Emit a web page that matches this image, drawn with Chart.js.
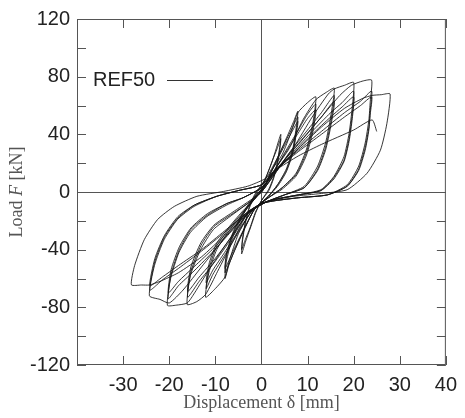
<!DOCTYPE html>
<html>
<head>
  <meta charset="UTF-8">
  <title>REF50 hysteresis</title>
  <script src="https://cdn.jsdelivr.net/npm/chart.js"></script>
  <style>
    body { margin: 0; background: #fff; }
  </style>
</head>
<body>
  <canvas id="loopChart" width="465" height="418"></canvas>

  <script>
    // load-displacement history, one array per amplitude step
    const step04 = [
      [0, 0], [1, 10], [2.2, 20], [3.2, 30], [4.2, 40],
      [4.0, 32], [3.4, 20], [2.6, 10], [1.6, 2], [0, -6],
      [-1.2, -14], [-2.4, -25], [-3.4, -34], [-4.3, -43],
      [-4.1, -34], [-3.5, -22], [-2.6, -11], [-1.5, -3], [0, 4], [1.2, 12],
      [2.4, 22], [3.4, 30], [4.2, 37],
      [4.0, 30], [3.4, 18], [2.6, 9], [1.6, 1], [0, -6],
      [-1.3, -14], [-2.5, -25], [-3.5, -33], [-4.3, -40],
      [-4.1, -32], [-3.5, -21], [-2.6, -10], [-1.5, -2], [0, 5], [1.5, 12]
    ];
    const step08 = [
      [3.5, 24], [5.5, 38], [7, 49], [7.9, 56],
      [7.6, 46], [6.8, 30], [5.4, 16], [3.5, 5], [1.5, -3], [-1.5, -12],
      [-3.5, -24], [-5.5, -38], [-7, -50], [-7.9, -60],
      [-7.6, -48], [-6.3, -32], [-4.5, -19], [-2.5, -8], [-0.5, 0], [1, 6], [2, 13],
      [4, 27], [6, 40], [7.9, 52],
      [7.6, 43], [6.8, 28], [5.4, 15], [3.5, 5], [1.5, -3], [-1.5, -12],
      [-4, -28], [-6, -42], [-7.9, -56],
      [-7.6, -45], [-6.3, -30], [-4.5, -18], [-2.5, -8], [-0.5, 0], [1, 6], [2, 13],
      [4, 26], [6, 38], [7.9, 49],
      [7.6, 41], [6.8, 27], [5.4, 14], [3.5, 4], [1.5, -3], [-1.5, -12],
      [-4, -27], [-6, -40], [-7.9, -53],
      [-7.6, -43], [-6.3, -29], [-4.5, -17], [-2.5, -7], [-0.5, 0], [1, 6], [2, 14]
    ];
    const step12 = [
      [4.5, 26], [6.5, 42], [7.9, 55], [10, 62], [11.8, 66],
      [11.1, 47], [9.7, 29], [7.5, 13], [4.5, 3], [1.5, -4], [-1, -10], [-2.5, -15],
      [-5, -29], [-7, -48], [-7.9, -59], [-10, -67], [-12.1, -73],
      [-11.4, -56], [-9.7, -40], [-6.8, -26], [-4, -15], [-1.5, -5], [0.5, 3], [2.5, 13],
      [5, 27], [8, 43], [10, 54], [11.8, 61],
      [11.1, 44], [9.7, 27], [7.5, 12], [4.5, 3], [1.5, -4], [-1, -10], [-2.5, -15],
      [-5, -28], [-8, -44], [-10.5, -57], [-12, -67],
      [-11.3, -52], [-9.6, -37], [-6.7, -24], [-4, -14], [-1.5, -5], [0.5, 3], [2.5, 13],
      [5, 26], [8, 41], [10, 51], [11.8, 57],
      [11.1, 41], [9.7, 25], [7.5, 11], [4.5, 2], [1.5, -4], [-1, -10], [-2.5, -15],
      [-5, -27], [-8, -42], [-10.5, -54], [-12, -63],
      [-11.3, -49], [-9.6, -35], [-6.7, -23], [-4, -13], [-1.5, -5], [0.5, 3], [2.5, 14]
    ];
    const step16 = [
      [6, 30], [9, 50], [11.8, 64], [14, 69], [15.8, 72],
      [15, 52], [13.9, 34], [12.2, 18], [9.3, 4], [5, -2], [1, -7], [-3, -15],
      [-6, -33], [-9.5, -55], [-12.1, -71], [-14, -76], [-16.1, -78],
      [-15.4, -58], [-13.2, -40], [-10.4, -26], [-6.8, -17], [-3, -8], [0, 0], [3, 13],
      [6, 27], [10, 43], [13, 55], [15.8, 67],
      [15, 48], [13.9, 31], [12.2, 16], [9.3, 3], [5, -2], [1, -7], [-3, -15],
      [-6, -30], [-10, -48], [-13.5, -62], [-16, -73],
      [-15.3, -55], [-13.1, -37], [-10.3, -24], [-6.7, -16], [-3, -8], [0, 0], [3, 13],
      [6, 26], [10, 41], [13, 52], [15.8, 63],
      [15, 45], [13.9, 29], [12.2, 15], [9.3, 3], [5, -2], [1, -7], [-3, -15],
      [-6, -29], [-10, -46], [-13.5, -59], [-16, -69],
      [-15.3, -52], [-13.1, -35], [-10.3, -23], [-6.7, -15], [-3, -7], [0, 0], [3, 14]
    ];
    const step20 = [
      [7, 31], [11, 52], [14.5, 68], [15.8, 71.5], [18, 74], [20, 76],
      [19.7, 59], [19, 40.5], [17.9, 24.5], [15.7, 10.7], [12.9, 1.6], [8, -2], [3, -5], [0, -8], [-3, -15],
      [-7, -33], [-11, -52], [-14.5, -70], [-16.1, -77], [-18.5, -78.5], [-20.4, -78.6],
      [-19.7, -60], [-17.9, -42], [-15.4, -28], [-11.8, -17], [-7.5, -9], [-4, -4], [0, 3], [3, 14],
      [7, 28], [11, 42], [15, 55], [17.5, 62], [20, 70],
      [19.7, 54], [19, 37], [17.9, 22], [15.7, 10], [12.9, 1], [8, -2], [3, -5], [0, -8], [-3, -15],
      [-7, -29], [-11, -43], [-15, -56], [-18, -65], [-20.2, -74],
      [-19.6, -57], [-17.8, -40], [-15.3, -26], [-11.7, -16], [-7.5, -8], [-4, -4], [0, 3], [3, 14],
      [7, 27], [11, 40], [15, 52], [17.5, 59], [20, 66],
      [19.7, 51], [19, 35], [17.9, 21], [15.7, 9], [12.9, 1], [8, -2], [3, -5], [0, -8], [-3, -15],
      [-7, -28], [-11, -41], [-15, -53], [-18, -62], [-20.2, -70],
      [-19.6, -54], [-17.8, -38], [-15.3, -25], [-11.7, -15], [-7.5, -8], [-4, -4], [0, 3], [3, 15]
    ];
    const step24 = [
      [8, 33], [13, 52], [17, 67], [19.5, 74], [22, 77], [23.9, 77.6],
      [23.6, 63], [23.3, 50], [22.5, 34], [21.1, 18], [18.6, 5], [14.3, -2], [8, -4], [3, -6], [0, -8], [-3, -14],
      [-8, -32], [-13, -52], [-17, -68], [-20, -77], [-22, -74.5], [-24.3, -72],
      [-23.2, -51], [-21.1, -33], [-18.2, -19], [-14.6, -10], [-9.7, -3], [-5, 1], [0, 5], [3, 15],
      [8, 29], [13, 42], [18, 55], [21.5, 63], [23.9, 70],
      [23.6, 57], [23.3, 45], [22.5, 31], [21.1, 16], [18.6, 4], [14.3, -2], [8, -4], [3, -6], [0, -8], [-3, -14],
      [-8, -28], [-13, -41], [-18, -53], [-21.5, -61], [-24.2, -68],
      [-23.1, -48], [-21, -31], [-18.1, -18], [-14.5, -9], [-9.7, -3], [-5, 1], [0, 5], [3, 15],
      [8, 28], [13, 40], [18, 52], [21.5, 60], [23.9, 66],
      [23.6, 54], [23.3, 43], [22.5, 29], [21.1, 15], [18.6, 4], [14.3, -2], [8, -4], [3, -6], [0, -8], [-3, -14],
      [-8, -27], [-13, -40], [-18, -51], [-21.5, -59], [-24.2, -65],
      [-23.1, -46], [-21, -30], [-18.1, -17], [-14.5, -9], [-9.7, -3], [-5, 1], [0, 5], [3, 15]
    ];
    const step28 = [
      [8, 30], [13, 45], [18, 58], [22, 65], [24, 67], [26, 67.5], [27.9, 68],
      [27.2, 47.4], [25.8, 29], [22.9, 13], [18.6, 1.6], [13, -1], [7, -3], [1, -7], [-3, -14],
      [-8, -30], [-13, -45], [-18, -56], [-22, -62], [-24.3, -64.5], [-26, -64.5], [-28.2, -64.4],
      [-27.5, -51], [-25.4, -33], [-22.5, -19], [-18.9, -10], [-14, -3], [-8.2, 0.4], [-3, 4], [0.7, 9], [3, 15]
    ];
    const finalRun = [
      [8, 25], [13, 33], [20, 43], [24, 50], [25, 42]
    ];

    const xTicks = { min: -40, max: 40, step: 10 };
    const yTicks = { min: -120, max: 120, step: 20 };

    const history = [...step04, ...step08, ...step12, ...step16, ...step20, ...step24, ...step28, ...finalRun]
      .map(p => ({ x: p[0], y: p[1] }));

    const serif = '"Liberation Serif", "Times New Roman", serif';

    // frame with inward ticks on all four sides, the legend and the y title (italic F)
    const framePlugin = {
      id: 'frame',
      afterDatasetsDraw(chart) {
        const { ctx, chartArea: a, scales } = chart;
        ctx.save();
        ctx.strokeStyle = '#555';
        ctx.lineWidth = 1;
        ctx.strokeRect(a.left + 0.5, a.top + 0.5, a.width - 1, a.height - 1);
        ctx.beginPath();
        scales.x.ticks.forEach(t => {
          const px = Math.round(scales.x.getPixelForValue(t.value)) + 0.5;
          ctx.moveTo(px, a.bottom); ctx.lineTo(px, a.bottom - 9);
          ctx.moveTo(px, a.top); ctx.lineTo(px, a.top + 9);
        });
        scales.y.ticks.forEach(t => {
          const py = Math.round(scales.y.getPixelForValue(t.value)) + 0.5;
          ctx.moveTo(a.left, py); ctx.lineTo(a.left + 9, py);
          ctx.moveTo(a.right, py); ctx.lineTo(a.right - 9, py);
        });
        ctx.stroke();

        const lx = a.left + 16, ly = a.top + 61;
        ctx.fillStyle = '#222';
        ctx.font = '20px "Liberation Sans", Arial, sans-serif';
        ctx.textBaseline = 'middle';
        ctx.fillText('REF50', lx, ly);
        ctx.strokeStyle = '#333';
        ctx.beginPath();
        ctx.moveTo(lx + 74, ly + 0.5);
        ctx.lineTo(lx + 120, ly + 0.5);
        ctx.stroke();

        // y axis title
        const parts = [['Load ', 'normal'], ['F', 'italic'], [' [kN]', 'normal']];
        ctx.translate(17, (a.top + a.bottom) / 2);
        ctx.rotate(-Math.PI / 2);
        ctx.fillStyle = '#555';
        ctx.textBaseline = 'middle';
        let total = 0;
        parts.forEach(([s, st]) => { ctx.font = st + ' 18px ' + serif; total += ctx.measureText(s).width; });
        let cx = -total / 2;
        parts.forEach(([s, st]) => {
          ctx.font = st + ' 18px ' + serif;
          ctx.fillText(s, cx, 0);
          cx += ctx.measureText(s).width;
        });
        ctx.restore();
      }
    };

    const zeroLine = c => c.tick.value === 0 ? '#555' : 'rgba(0,0,0,0)';
    const tickFont = { family: '"Liberation Sans", Arial, sans-serif', size: 20 };

    new Chart(document.getElementById('loopChart'), {
      type: 'scatter',
      data: {
        datasets: [{
          label: 'REF50',
          data: history,
          showLine: true,
          pointRadius: 0,
          borderColor: 'rgba(20,20,20,0.85)',
          borderWidth: 1,
          tension: 0.2
        }]
      },
      plugins: [framePlugin],
      options: {
        responsive: false,
        animation: false,
        layout: { padding: { top: 16, right: 13, left: 0, bottom: 0 } },
        plugins: { legend: { display: false }, tooltip: { enabled: false } },
        scales: {
          x: {
            type: 'linear',
            min: xTicks.min,
            max: xTicks.max,
            afterFit: s => { s.height = 53; },
            border: { display: false },
            grid: { color: zeroLine, drawTicks: false },
            ticks: {
              stepSize: xTicks.step,
              autoSkip: false,
              maxRotation: 0,
              padding: 8,
              color: '#222',
              font: tickFont,
              callback: v => v === -40 ? '' : v
            },
            title: {
              display: true,
              text: 'Displacement δ [mm]',
              color: '#555',
              font: { family: serif, size: 18 },
              padding: { top: 0, bottom: 4 }
            }
          },
          y: {
            type: 'linear',
            min: yTicks.min,
            max: yTicks.max,
            afterFit: s => { s.width = 77; },
            border: { display: false },
            grid: { color: zeroLine, drawTicks: false },
            ticks: {
              stepSize: yTicks.step,
              autoSkip: false,
              padding: 7,
              color: '#222',
              font: tickFont,
              callback: v => v % 40 === 0 ? v : ''
            }
          }
        }
      }
    });
  </script>
</body>
</html>
